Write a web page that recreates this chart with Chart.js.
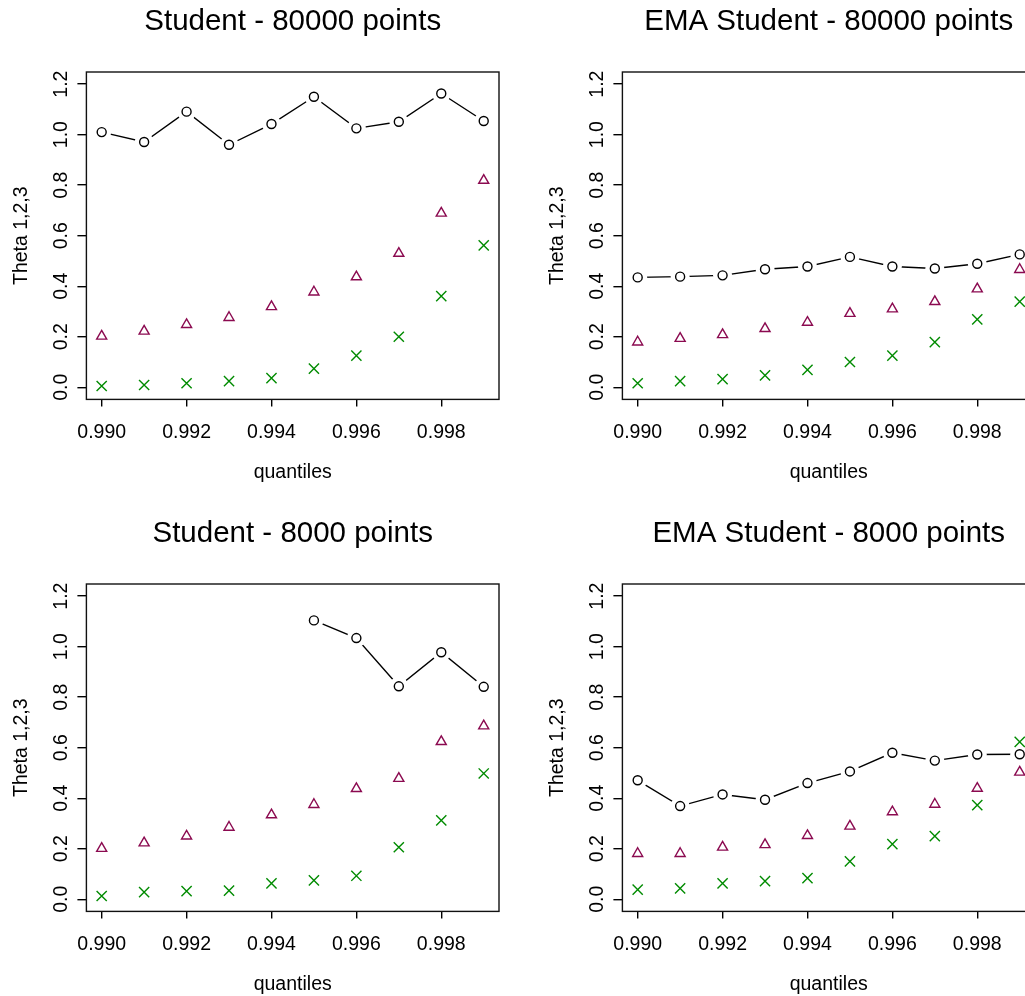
<!DOCTYPE html>
<html>
<head>
<meta charset="utf-8">
<script src="https://cdn.jsdelivr.net/npm/chart.js@4/dist/chart.umd.min.js"></script>
<style>
  html, body { margin: 0; padding: 0; background: #fff; }
  body { width: 1025px; height: 996px; overflow: hidden; position: relative; }
  canvas { position: absolute; }
</style>
</head>
<body>
<canvas id="c1" width="536" height="512" style="left:0px;top:0px"></canvas>
<canvas id="c2" width="536" height="512" style="left:536px;top:0px"></canvas>
<canvas id="c3" width="536" height="512" style="left:0px;top:512px"></canvas>
<canvas id="c4" width="536" height="512" style="left:536px;top:512px"></canvas>
<script>
// quantile levels on the x axis
const quantiles = [0.990, 0.991, 0.992, 0.993, 0.994, 0.995, 0.996, 0.997, 0.998, 0.999];
const xTickLabels = ['0.990', '0.992', '0.994', '0.996', '0.998'];
const yTickLabels = ['0.0', '0.2', '0.4', '0.6', '0.8', '1.0', '1.2'];

// Student - 80000 points
const student80000Theta1 = [1.010, 0.971, 1.091, 0.960, 1.042, 1.150, 1.025, 1.051, 1.163, 1.054];
const student80000Theta2 = [0.202, 0.222, 0.248, 0.276, 0.319, 0.377, 0.437, 0.530, 0.689, 0.819];
const student80000Theta3 = [0.005, 0.009, 0.016, 0.024, 0.036, 0.074, 0.125, 0.200, 0.361, 0.562];

// EMA Student - 80000 points
const ema80000Theta1 = [0.435, 0.438, 0.443, 0.467, 0.478, 0.516, 0.478, 0.470, 0.489, 0.526];
const ema80000Theta2 = [0.179, 0.193, 0.208, 0.232, 0.257, 0.292, 0.310, 0.339, 0.389, 0.466];
const ema80000Theta3 = [0.016, 0.024, 0.032, 0.047, 0.069, 0.100, 0.125, 0.179, 0.269, 0.339];

// Student - 8000 points (first five estimates missing)
const student8000Theta1 = [null, null, null, null, null, 1.104, 1.034, 0.843, 0.978, 0.841];
const student8000Theta2 = [0.201, 0.223, 0.250, 0.285, 0.334, 0.375, 0.438, 0.478, 0.624, 0.686];
const student8000Theta3 = [0.013, 0.028, 0.032, 0.034, 0.063, 0.075, 0.093, 0.206, 0.312, 0.498];

// EMA Student - 8000 points
const ema8000Theta1 = [0.471, 0.369, 0.415, 0.394, 0.460, 0.506, 0.580, 0.549, 0.573, 0.574];
const ema8000Theta2 = [0.181, 0.181, 0.206, 0.216, 0.252, 0.289, 0.346, 0.376, 0.439, 0.503];
const ema8000Theta3 = [0.038, 0.043, 0.063, 0.072, 0.084, 0.150, 0.218, 0.250, 0.373, 0.623];

const FONT = "'Liberation Sans', Arial, Helvetica, sans-serif";
Chart.defaults.font.family = FONT;
Chart.defaults.color = '#000';

const COL_T2 = '#8B0A50';
const COL_T3 = '#008B00';
const LW = 1.4;

// plot region padding (R-style 4% extension of the data ranges)
const xMin = quantiles[0], xMax = quantiles[quantiles.length - 1];
const xPad = (xMax - xMin) * 0.04;
const yLo = parseFloat(yTickLabels[0]), yHi = parseFloat(yTickLabels[yTickLabels.length - 1]);
const yPad = (yHi - yLo) * 0.04;

const toPoints = (ys) => quantiles.map((q, i) => ({ x: q, y: ys[i] }));

// frame around the plotting region
const framePlugin = {
  id: 'frame',
  afterDatasetsDraw(chart) {
    const a = chart.chartArea, ctx = chart.ctx;
    ctx.save();
    ctx.strokeStyle = '#111';
    ctx.lineWidth = LW;
    ctx.strokeRect(a.left, a.top, a.right - a.left, a.bottom - a.top);
    ctx.restore();
  }
};

function makePanel(id, title, t1, t2, t3) {
  const canvas = document.getElementById(id);
  const H = canvas.height;
  new Chart(canvas, {
    type: 'line',
    data: {
      datasets: [
        { label: 'theta2', data: toPoints(t2), showLine: false, pointStyle: 'triangle',
          pointRadius: 5.8, pointBorderColor: COL_T2, pointBackgroundColor: 'rgba(0,0,0,0)',
          pointBorderWidth: LW },
        { label: 'theta3', data: toPoints(t3), showLine: false, pointStyle: 'crossRot',
          pointRadius: 7.2, pointBorderColor: COL_T3, pointBorderWidth: LW },
        { label: 'theta1', data: toPoints(t1), showLine: false, pointStyle: 'circle',
          pointRadius: 4.5, pointBorderColor: '#000', pointBackgroundColor: '#fff',
          pointBorderWidth: LW },
        { label: 'theta1 gap', data: toPoints(t1), showLine: false, pointStyle: 'circle',
          pointRadius: 9.5, pointBorderWidth: 0, pointBorderColor: '#fff',
          pointBackgroundColor: '#fff' },
        { label: 'theta1 line', data: toPoints(t1), borderColor: '#000', borderWidth: LW,
          pointRadius: 0, tension: 0, spanGaps: false, fill: false }
      ]
    },
    options: {
      responsive: false,
      animation: false,
      events: [],
      devicePixelRatio: 1,
      layout: { padding: { left: 0, right: 37, top: 0, bottom: 0 } },
      elements: { point: { hoverRadius: 0 } },
      datasets: { line: { clip: false } },
      plugins: {
        legend: { display: false },
        tooltip: { enabled: false },
        title: {
          display: true, text: title, fullSize: false, color: '#000',
          font: { family: FONT, size: 29.5, weight: 'normal' },
          padding: { top: 4.5, bottom: 32.1 }
        }
      },
      scales: {
        x: {
          type: 'linear', position: 'bottom',
          min: xMin - xPad, max: xMax + xPad,
          afterBuildTicks: (s) => { s.ticks = xTickLabels.map(v => ({ value: parseFloat(v) })); },
          afterFit: (s) => { s.height = H - 399.4; },
          ticks: {
            autoSkip: false, maxRotation: 0, minRotation: 0, padding: 14.4, color: '#000',
            font: { family: FONT, size: 19.5 },
            callback: (v, i) => xTickLabels[i]
          },
          grid: { drawOnChartArea: false, drawTicks: true, tickLength: 7, color: '#000', lineWidth: LW },
          border: { display: false },
          title: {
            display: true, text: 'quantiles', color: '#000',
            font: { family: FONT, size: 19.5 },
            padding: { top: 0, bottom: H - 472.2 - 11.7 }
          }
        },
        y: {
          type: 'linear', position: 'left',
          min: yLo - yPad, max: yHi + yPad,
          afterBuildTicks: (s) => { s.ticks = yTickLabels.map(v => ({ value: parseFloat(v) })); },
          afterFit: (s) => { s.width = 86.4; },
          ticks: {
            autoSkip: false, minRotation: 90, maxRotation: 90, crossAlign: 'center',
            padding: 2.6, color: '#000', font: { family: FONT, size: 19.5 },
            callback: (v, i) => yTickLabels[i]
          },
          grid: { drawOnChartArea: false, drawTicks: true, tickLength: 9, color: '#000', lineWidth: LW },
          border: { display: false },
          title: {
            display: true, text: 'Theta 1,2,3', color: '#000',
            font: { family: FONT, size: 19.5 },
            padding: { top: 9.8, bottom: 0 }
          }
        }
      }
    },
    plugins: [framePlugin]
  });
}

makePanel('c1', 'Student - 80000 points', student80000Theta1, student80000Theta2, student80000Theta3);
makePanel('c2', 'EMA Student - 80000 points', ema80000Theta1, ema80000Theta2, ema80000Theta3);
makePanel('c3', 'Student - 8000 points', student8000Theta1, student8000Theta2, student8000Theta3);
makePanel('c4', 'EMA Student - 8000 points', ema8000Theta1, ema8000Theta2, ema8000Theta3);
</script>
</body>
</html>
